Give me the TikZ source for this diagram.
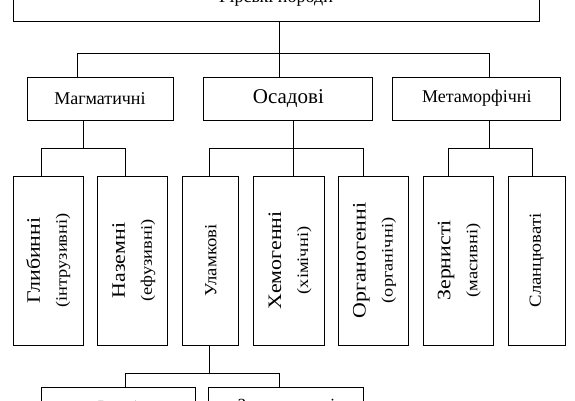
\documentclass[tikz,border=0pt]{standalone}
\usepackage{fontspec}
\setmainfont{Liberation Serif}
\usepackage{graphicx}
\usetikzlibrary{positioning}
\tikzset{top node/.style={draw,minimum width=526pt,minimum height=45pt,inner sep=0pt,font=\fontsize{18}{22}\selectfont},
group node/.style={draw,minimum height=43pt,inner sep=0pt,font=\fontsize{18}{22}\selectfont},
leaf node/.style={draw,minimum width=70pt,minimum height=169pt,inner sep=0pt},
base node/.style={draw,minimum height=40pt,inner sep=0pt,font=\fontsize{17}{20}\selectfont},
}
\newcommand{\twolabel}[2]{\rotatebox{90}{\scalebox{1.15}[1]{\fontsize{19}{27}\selectfont\begin{tabular}{@{}c@{}}#1\\{\fontsize{16}{18}\selectfont #2}\end{tabular}}}}
\newcommand{\onelabel}[1]{\rotatebox{90}{\scalebox{1.1}[1]{\fontsize{17}{20}\selectfont #1}}}

\begin{document}
\begin{tikzpicture}[x=1pt,y=-1pt,line width=0.9pt]
			\useasboundingbox (0,0) rectangle (575,400);
			\clip (0,0) rectangle (575,400);
			
			%% top level
			\node[top node] (rocks) at (276,-1.5) {Гірські породи};
			\node[group node,minimum width=146pt] (magm) at (100,98.5) {Магматичні};
			\node[group node,minimum width=169pt,font=\fontsize{21}{25}\selectfont] (osad) [right = 30pt of magm] {Осадові};
			\node[group node,minimum width=168pt] (meta) [right = 19pt of osad] {Метаморфічні};
			
			%% rotated boxes
			\node[leaf node] (deep) at (48,260.5) {\twolabel{Глибинні}{(інтрузивні)}};
			\node[leaf node] (surf) [right = 14pt of deep] {\twolabel{Наземні}{(ефузивні)}};
			\node[leaf node,minimum width=56pt] (clast) [right = 14pt of surf] {\onelabel{Уламкові}};
			\node[leaf node,minimum width=71pt] (chem) [right = 14pt of clast] {\twolabel{Хемогенні}{(хімічні)}};
			\node[leaf node] (org) [right = 13pt of chem] {\twolabel{Органогенні}{(органічні)}};
			\node[leaf node] (gran) [right = 14pt of org] {\twolabel{Зернисті}{(масивні)}};
			\node[leaf node,minimum width=57pt] (schist) [right = 14pt of gran] {\onelabel{Сланцюваті}};
			
			%% bottom boxes
			\node[base node,minimum width=154pt] (loose) at (118,407) {Рихлі};
			\node[base node,minimum width=155pt] (cem) [right = 13pt of loose] {Зцементовані};
			
			%% connectors
			\draw (rocks.south -| 279,0) -- (279,53);
			\draw (magm.north -| 77,0) -- (77,53) -- (489,53) -- (meta.north -| 489,0);
			\draw (279,53) -- (osad.north -| 279,0);
			
			\draw (magm.south -| 83,0) -- (83,148);
			\draw (deep.north -| 41,0) -- (41,148) -- (125,148) -- (surf.north -| 125,0);
			
			\draw (osad.south -| 293,0) -- (chem.north -| 293,0);
			\draw (clast.north -| 209,0) -- (209,148) -- (363,148) -- (org.north -| 363,0);
			
			\draw (meta.south -| 489,0) -- (489,148);
			\draw (gran.north -| 448,0) -- (448,148) -- (532,148) -- (schist.north -| 532,0);
			
			\draw (clast.south -| 209,0) -- (209,373);
			\draw (loose.north -| 125,0) -- (125,373) -- (279,373) -- (cem.north -| 279,0);
\end{tikzpicture}
\end{document}
